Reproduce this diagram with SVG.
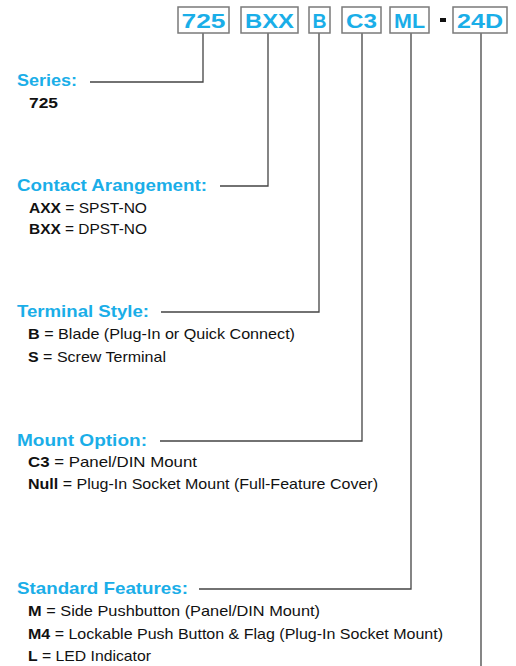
<svg xmlns="http://www.w3.org/2000/svg" width="516" height="666" viewBox="0 0 516 666">
<style>
.box{fill:#fff;stroke:#7a7a7a;stroke-width:1.5}
.bt{font-family:"Liberation Sans",Arial,sans-serif;font-weight:bold;font-size:21px;fill:#1aaee8;text-anchor:middle}
.lbl{font-family:"Liberation Sans",Arial,sans-serif;font-weight:bold;font-size:17px;fill:#1aaee8}
.txt{font-family:"Liberation Sans",Arial,sans-serif;font-size:15px;fill:#111}
.b{font-weight:bold}
.ln{fill:none;stroke:#444;stroke-width:1.3}
</style>
<rect width="516" height="666" fill="#fff"/>
<g id="connectors">
<polyline class="ln" points="203,33 203,82 90,82"/>
<polyline class="ln" points="268,33 268,186 220,186"/>
<polyline class="ln" points="319,33 319,312 161,312"/>
<polyline class="ln" points="362,33 362,441 160,441"/>
<polyline class="ln" points="411,33 411,589 199,589"/>
<polyline class="ln" points="481,33 481,666"/>
</g>
<g id="part-725"><rect class="box" x="178" y="7" width="51" height="26"/><text class="bt" x="203.5" y="28" textLength="44" lengthAdjust="spacingAndGlyphs">725</text></g>
<g id="part-BXX"><rect class="box" x="241" y="7" width="57" height="26"/><text class="bt" x="269.5" y="28" textLength="49" lengthAdjust="spacingAndGlyphs">BXX</text></g>
<g id="part-B"><rect class="box" x="309" y="7" width="21" height="26"/><text class="bt" x="319.5" y="28" textLength="14" lengthAdjust="spacingAndGlyphs">B</text></g>
<g id="part-C3"><rect class="box" x="342" y="7" width="39" height="26"/><text class="bt" x="361.5" y="28" textLength="31" lengthAdjust="spacingAndGlyphs">C3</text></g>
<g id="part-ML"><rect class="box" x="390" y="7" width="39" height="26"/><text class="bt" x="409.5" y="28" textLength="31" lengthAdjust="spacingAndGlyphs">ML</text></g>
<g id="dash"><rect x="440" y="18" width="6" height="4" fill="#111"/></g>
<g id="part-24D"><rect class="box" x="453" y="7" width="54" height="26"/><text class="bt" x="480" y="28" textLength="46" lengthAdjust="spacingAndGlyphs">24D</text></g>
<g id="series">
<text class="lbl" x="17" y="86" textLength="60" lengthAdjust="spacingAndGlyphs">Series:</text>
<text class="txt b" x="29" y="108" textLength="29" lengthAdjust="spacingAndGlyphs">725</text>
</g>
<g id="contact">
<text class="lbl" x="17" y="191" textLength="190" lengthAdjust="spacingAndGlyphs">Contact Arangement:</text>
<text class="txt" x="29" y="213" textLength="118" lengthAdjust="spacingAndGlyphs"><tspan class="b">AXX</tspan> = SPST-NO</text>
<text class="txt" x="29" y="234" textLength="118" lengthAdjust="spacingAndGlyphs"><tspan class="b">BXX</tspan> = DPST-NO</text>
</g>
<g id="terminal">
<text class="lbl" x="17" y="317" textLength="132" lengthAdjust="spacingAndGlyphs">Terminal Style:</text>
<text class="txt" x="28" y="339" textLength="267" lengthAdjust="spacingAndGlyphs"><tspan class="b">B</tspan> = Blade (Plug-In or Quick Connect)</text>
<text class="txt" x="28" y="362" textLength="138" lengthAdjust="spacingAndGlyphs"><tspan class="b">S</tspan> = Screw Terminal</text>
</g>
<g id="mount">
<text class="lbl" x="17" y="446" textLength="130" lengthAdjust="spacingAndGlyphs">Mount Option:</text>
<text class="txt" x="28" y="467" textLength="169" lengthAdjust="spacingAndGlyphs"><tspan class="b">C3</tspan> = Panel/DIN Mount</text>
<text class="txt" x="28" y="489" textLength="350" lengthAdjust="spacingAndGlyphs"><tspan class="b">Null</tspan> = Plug-In Socket Mount (Full-Feature Cover)</text>
</g>
<g id="features">
<text class="lbl" x="17" y="594" textLength="171" lengthAdjust="spacingAndGlyphs">Standard Features:</text>
<text class="txt" x="28" y="616" textLength="292" lengthAdjust="spacingAndGlyphs"><tspan class="b">M</tspan> = Side Pushbutton (Panel/DIN Mount)</text>
<text class="txt" x="28" y="639" textLength="415" lengthAdjust="spacingAndGlyphs"><tspan class="b">M4</tspan> = Lockable Push Button &amp; Flag (Plug-In Socket Mount)</text>
<text class="txt" x="28" y="661" textLength="123" lengthAdjust="spacingAndGlyphs"><tspan class="b">L</tspan> = LED Indicator</text>
</g>
</svg>
